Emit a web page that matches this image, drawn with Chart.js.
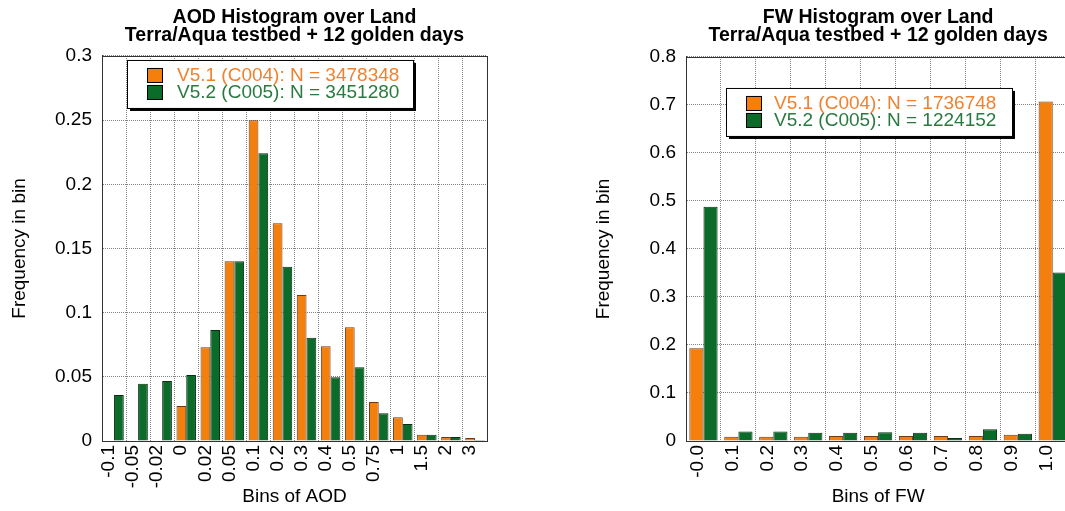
<!DOCTYPE html>
<html>
<head>
<meta charset="utf-8">
<script src="https://cdn.jsdelivr.net/npm/chart.js@4/dist/chart.umd.min.js"></script>
<style>
  html, body { margin: 0; padding: 0; background: #fff; overflow: hidden; width: 1065px; height: 511px; }
  canvas { position: absolute; top: 0; }
  #aod { left: 0; }
  #fw { left: 580px; }
</style>
</head>
<body>
<canvas id="aod" width="540" height="511"></canvas>
<canvas id="fw" width="500" height="511"></canvas>
<script>
// datos
const aodBins = ["-0.1", "-0.05", "-0.02", "0", "0.02", "0.05", "0.1", "0.2", "0.3", "0.4", "0.5", "0.75", "1", "1.5", "2", "3"];
const aodV51 = [0, 0, 0, 0.0273, 0.073, 0.14, 0.25, 0.1696, 0.1138, 0.0738, 0.0886, 0.0304, 0.0185, 0.0049, 0.0031, 0.0023];
const aodV52 = [0.0358, 0.0447, 0.0467, 0.0514, 0.0865, 0.14, 0.2242, 0.1358, 0.0805, 0.0496, 0.0574, 0.0216, 0.0132, 0.0049, 0.0031, 0.0008];
const aodN = [3478348, 3451280];

const fwBins = ["-0.0", "0.1", "0.2", "0.3", "0.4", "0.5", "0.6", "0.7", "0.8", "0.9", "1.0"];
const fwV51 = [0.193, 0.009, 0.0087, 0.0087, 0.0104, 0.0104, 0.0104, 0.0104, 0.0104, 0.013, 0.707];
const fwV52 = [0.488, 0.020, 0.020, 0.0174, 0.0174, 0.018, 0.0174, 0.0063, 0.0243, 0.0152, 0.351];
const fwN = [1736748, 1224152];

const versiones = ["V5.1 (C004)", "V5.2 (C005)"];

const naranja = "#f57f0c";
const verde = "#0b6b28";
const fuente = "'Liberation Sans', Arial, Helvetica, sans-serif";

/* marco alrededor del area del grafico */
const marco = {
  id: "marco",
  afterDatasetsDraw(chart) {
    const a = chart.chartArea;
    const ctx = chart.ctx;
    ctx.save();
    ctx.strokeStyle = "#333";
    ctx.lineWidth = 1;
    ctx.strokeRect(Math.round(a.left) + 0.5, Math.round(a.top) + 0.5, Math.round(a.right - a.left), Math.round(a.bottom - a.top));
    ctx.restore();
  },
};

/* leyenda con caja y sombra dentro del grafico */
const cajaLeyenda = {
  id: "cajaLeyenda",
  afterDraw(chart, args, opts) {
    const a = chart.chartArea;
    const ctx = chart.ctx;
    const x = a.left + opts.x;
    const y = a.top + opts.y;
    const w = 286;
    const h = 48;
    ctx.save();
    ctx.fillStyle = "#000";
    ctx.fillRect(x + 3, y + 3, w, h);
    ctx.fillStyle = "#fff";
    ctx.fillRect(x, y, w, h);
    ctx.strokeStyle = "#000";
    ctx.lineWidth = 1;
    ctx.strokeRect(x + 0.5, y + 0.5, w, h);
    ctx.font = "19px " + fuente;
    ctx.textBaseline = "middle";
    const colTexto = ["#f0822e", "#2a7a40"];
    chart.data.datasets.forEach((ds, i) => {
      const fy = y + 15 + i * 17;
      ctx.fillStyle = ds.backgroundColor;
      ctx.fillRect(x + 20, fy - 7, 16, 15);
      ctx.strokeStyle = "#000";
      ctx.strokeRect(x + 20.5, fy - 6.5, 15, 14);
      ctx.fillStyle = colTexto[i];
      ctx.fillText(ds.label, x + opts.texto, fy + 1);
    });
    ctx.restore();
  },
};

function armar(canvas, bins, v51, v52, n, cfg) {
  const datasets = [
    {
      label: `${versiones[0]}: N = ${n[0]}`,
      data: v51,
      backgroundColor: naranja,
      borderColor: "#6b3a18",
      borderWidth: 1,
    },
    {
      label: `${versiones[1]}: N = ${n[1]}`,
      data: v52,
      backgroundColor: verde,
      borderColor: "#0a2e14",
      borderWidth: 1,
    },
  ];
  return new Chart(canvas, {
    type: "bar",
    data: { labels: bins, datasets: datasets },
    plugins: [marco, cajaLeyenda],
    options: {
      responsive: false,
      animation: false,
      devicePixelRatio: 1,
      categoryPercentage: 0.81,
      barPercentage: 1,
      layout: { padding: { left: 0, right: cfg.derecha, top: 0, bottom: 0 } },
      plugins: {
        legend: { display: false },
        tooltip: { enabled: false },
        title: {
          display: true,
          fullSize: false,
          text: cfg.titulo,
          color: "#000",
          font: { family: fuente, size: 19.5, weight: "bold", lineHeight: 0.93 },
          padding: { top: 8.5, bottom: cfg.arriba - 8.5 - 36.3 },
        },
        cajaLeyenda: cfg.leyenda,
      },
      scales: {
        x: {
          grid: { color: "rgba(90,90,90,0.75)", drawTicks: false },
          border: { color: "#333", dash: [1, 1] },
          ticks: {
            color: "#000",
            font: { family: fuente, size: 19 },
            minRotation: 90,
            maxRotation: 90,
            autoSkip: false,
            padding: 4,
            labelOffset: cfg.desplazar,
          },
          title: {
            display: true,
            text: cfg.tituloX,
            color: "#000",
            font: { family: fuente, size: 19 },
            padding: { top: 0, bottom: 3 },
          },
          afterFit: (scale) => {
            scale.height = 70;
          },
        },
        y: {
          min: 0,
          max: cfg.maximo,
          grid: { color: "rgba(90,90,90,0.75)", drawTicks: false },
          border: { color: "#333", dash: [1, 1] },
          ticks: {
            stepSize: cfg.paso,
            color: "#000",
            font: { family: fuente, size: 19 },
            padding: 10,
            callback: (v) => String(parseFloat(Number(v).toFixed(4))),
          },
          title: {
            display: true,
            text: "Frequency in bin",
            color: "#000",
            font: { family: fuente, size: 19 },
            padding: { top: cfg.padTitulo, bottom: 0 },
          },
          afterFit: (scale) => {
            scale.width = cfg.anchoY;
          },
        },
      },
    },
  });
}

armar(document.getElementById("aod"), aodBins, aodV51, aodV52, aodN, {
  titulo: ["AOD Histogram over Land", "Terra/Aqua testbed + 12 golden days"],
  tituloX: "Bins of AOD",
  maximo: 0.3,
  paso: 0.05,
  derecha: 53,
  arriba: 56,
  anchoY: 102,
  padTitulo: 8.6,
  desplazar: -5,
  leyenda: { x: 25, y: 4, texto: 50 },
});

armar(document.getElementById("fw"), fwBins, fwV51, fwV52, fwN, {
  titulo: ["FW Histogram over Land", "Terra/Aqua testbed + 12 golden days"],
  tituloX: "Bins of FW",
  maximo: 0.8,
  paso: 0.1,
  derecha: 9,
  arriba: 57,
  anchoY: 106,
  padTitulo: 12.6,
  desplazar: -6,
  leyenda: { x: 40, y: 31, texto: 48 },
});
</script>
</body>
</html>
